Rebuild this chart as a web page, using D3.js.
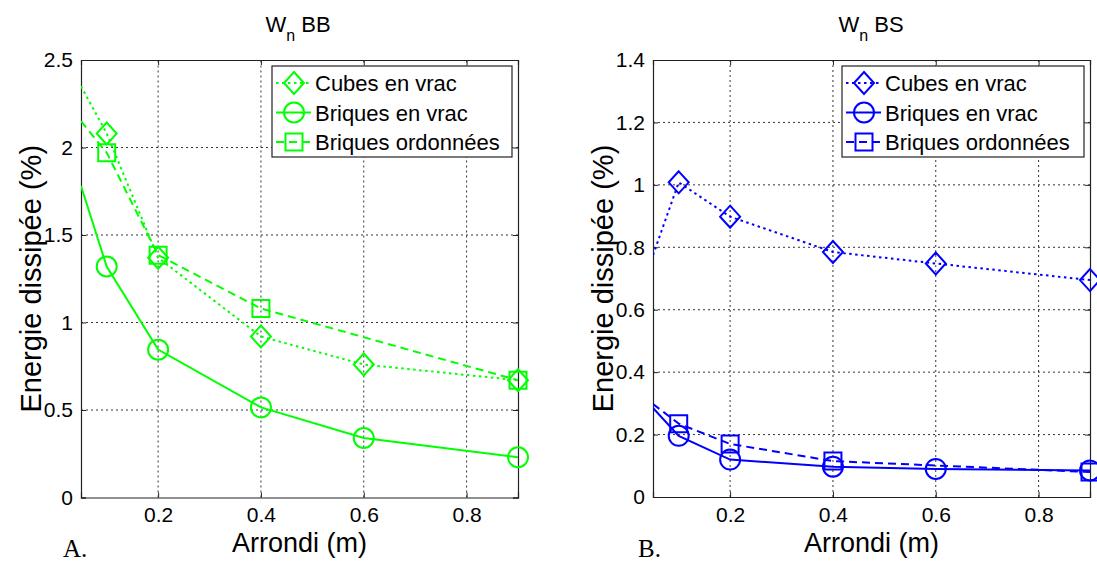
<!DOCTYPE html>
<html>
<head>
<meta charset="utf-8">
<script src="https://cdn.jsdelivr.net/npm/d3@7"></script>
<style>
  html, body { margin: 0; padding: 0; background: #fff; }
  svg { display: block; }
  text { font-family: "Liberation Sans", Arial, sans-serif; fill: #000; }
</style>
</head>
<body>
<svg id="chart" width="1097" height="561"></svg>
<script>
// ---------- data ----------
const seriesNames = ["Cubes en vrac", "Briques en vrac", "Briques ordonnées"];
const xTicks = [0.2, 0.4, 0.6, 0.8];
const xTickLabels = ["0.2", "0.4", "0.6", "0.8"];

// x positions (first point = left edge start, drawn without marker)
const xCubes = [0.05, 0.1, 0.2, 0.4, 0.6, 0.9];
const xBriquesVrac = [0.05, 0.1, 0.2, 0.4, 0.6, 0.9];
const xBriquesOrd = [0.05, 0.1, 0.2, 0.4, 0.9];

// Panel A : Wn BB
const bbCubes = [2.35, 2.08, 1.37, 0.92, 0.76, 0.67];
const bbBriquesVrac = [1.78, 1.32, 0.845, 0.515, 0.34, 0.23];
const bbBriquesOrd = [2.15, 1.97, 1.385, 1.08, 0.67];
const bbYTicks = [0, 0.5, 1, 1.5, 2, 2.5];
const bbYTickLabels = ["0", "0.5", "1", "1.5", "2", "2.5"];

// Panel B : Wn BS
const bsCubes = [0.775, 1.008, 0.898, 0.785, 0.748, 0.695];
const bsBriquesVrac = [0.285, 0.196, 0.12, 0.097, 0.09, 0.085];
const bsBriquesOrd = [0.298, 0.235, 0.17, 0.115, 0.08];
const bsYTicks = [0, 0.2, 0.4, 0.6, 0.8, 1, 1.2, 1.4];
const bsYTickLabels = ["0", "0.2", "0.4", "0.6", "0.8", "1", "1.2", "1.4"];

// ---------- drawing ----------
const svg = d3.select("#chart");
const styles = [
  { dash: "2.5,3.5", marker: "diamond" },
  { dash: null, marker: "circle" },
  { dash: "8,5", marker: "square" }
];

function markerPath(type) {
  if (type === "diamond") return "M0,-11L10,0L0,11L-10,0Z";
  if (type === "square") return "M-8.5,-8.5H8.5V8.5H-8.5Z";
  return d3.arc()({ innerRadius: 0, outerRadius: 10, startAngle: 0, endAngle: 2 * Math.PI });
}

function drawPanel(cfg) {
  const x = d3.scaleLinear().domain([0.05, 0.9]).range([cfg.x0, cfg.x1]);
  const y = d3.scaleLinear().domain([0, cfg.yMax]).range([cfg.y0, cfg.y1]);
  const g = svg.append("g");
  const clipId = "clip" + cfg.id;
  svg.append("clipPath").attr("id", clipId).append("rect")
    .attr("x", cfg.x0).attr("y", cfg.y1).attr("width", cfg.x1 - cfg.x0).attr("height", cfg.y0 - cfg.y1);

  // grid
  g.append("g").selectAll("line").data(xTicks).join("line")
    .attr("x1", d => x(d)).attr("x2", d => x(d)).attr("y1", cfg.y0).attr("y2", cfg.y1)
    .attr("stroke", "#000").attr("stroke-width", 0.8).attr("stroke-dasharray", "2,3");
  g.append("g").selectAll("line").data(cfg.yTicks.slice(1, -1)).join("line")
    .attr("x1", cfg.x0).attr("x2", cfg.x1).attr("y1", d => y(d)).attr("y2", d => y(d))
    .attr("stroke", "#000").attr("stroke-width", 0.8).attr("stroke-dasharray", "2,3");

  // axes
  const ax = g.append("g").attr("transform", `translate(0,${cfg.y0})`)
    .call(d3.axisBottom(x).tickValues(xTicks).tickSize(-5).tickPadding(10)
      .tickFormat((d, i) => xTickLabels[i]));
  const ay = g.append("g").attr("transform", `translate(${cfg.x0},0)`)
    .call(d3.axisLeft(y).tickValues(cfg.yTicks).tickSize(-5).tickPadding(8)
      .tickFormat((d, i) => cfg.yTickLabels[i]));
  const axTop = g.append("g").attr("transform", `translate(0,${cfg.y1})`)
    .call(d3.axisTop(x).tickValues(xTicks).tickSize(-5).tickFormat(""));
  const ayRight = g.append("g").attr("transform", `translate(${cfg.x1},0)`)
    .call(d3.axisRight(y).tickValues(cfg.yTicks).tickSize(-5).tickFormat(""));
  [ax, ay, axTop, ayRight].forEach(a => {
    a.attr("font-family", null).attr("font-size", null);
    a.select(".domain").attr("stroke", "#222").attr("stroke-width", 1.2);
    a.selectAll(".tick line").attr("stroke", "#222");
    a.selectAll(".tick text").style("font-size", "21px").attr("fill", "#000");
  });

  // title
  const t = g.append("text").attr("x", cfg.titleX).attr("y", 32)
    .attr("text-anchor", "middle").style("font-size", "22px");
  t.append("tspan").text("W");
  t.append("tspan").attr("dy", 9).style("font-size", "16px").text("n");
  t.append("tspan").attr("dy", -9).text("\u00A0" + cfg.titleRest);

  // axis labels
  g.append("text").attr("x", (cfg.x0 + cfg.x1) / 2).attr("y", 552)
    .attr("text-anchor", "middle").style("font-size", "27px").text("Arrondi (m)");
  g.append("text").attr("transform", `translate(${cfg.x0 - 40},${(cfg.y0 + cfg.y1) / 2}) rotate(-90)`)
    .attr("text-anchor", "middle").style("font-size", "29px").text("Energie dissipée (%)");

  // panel letter
  g.append("text").attr("x", cfg.letterX).attr("y", 557)
    .style("font-family", "'Liberation Serif', 'Times New Roman', serif").style("font-size", "25px")
    .text(cfg.letter);

  // series
  const xs = [xCubes, xBriquesVrac, xBriquesOrd];
  cfg.values.forEach((vals, si) => {
    const pts = vals.map((v, i) => [xs[si][i], v]);
    const line = d3.line().x(d => x(d[0])).y(d => y(d[1]));
    g.append("path").attr("d", line(pts)).attr("clip-path", `url(#${clipId})`)
      .attr("fill", "none").attr("stroke", cfg.color).attr("stroke-width", 2)
      .attr("stroke-dasharray", styles[si].dash);
    g.append("g").selectAll("path").data(pts.slice(1)).join("path")
      .attr("transform", d => `translate(${x(d[0])},${y(d[1])})`)
      .attr("d", markerPath(styles[si].marker))
      .attr("fill", "none").attr("stroke", cfg.color).attr("stroke-width", 2);
  });

  // legend
  const L = cfg.legend;
  g.append("rect").attr("x", L.x).attr("y", L.y).attr("width", L.w).attr("height", L.h)
    .attr("fill", "#fff").attr("stroke", "#222").attr("stroke-width", 1.2);
  seriesNames.forEach((name, si) => {
    const cy = L.y + 17 + si * 29.5;
    g.append("line").attr("x1", L.x + 4).attr("x2", L.x + 39).attr("y1", cy).attr("y2", cy)
      .attr("stroke", cfg.color).attr("stroke-width", 2).attr("stroke-dasharray", styles[si].dash);
    g.append("path").attr("transform", `translate(${L.x + 22},${cy})`)
      .attr("d", markerPath(styles[si].marker))
      .attr("fill", "none").attr("stroke", cfg.color).attr("stroke-width", 2);
    g.append("text").attr("x", L.x + 43).attr("y", cy + 8).style("font-size", "22px").text(name);
  });
}

drawPanel({
  id: "A", x0: 81, x1: 518, y0: 497.5, y1: 60, yMax: 2.5,
  yTicks: bbYTicks, yTickLabels: bbYTickLabels,
  values: [bbCubes, bbBriquesVrac, bbBriquesOrd], color: "#00ff00",
  titleX: 298, titleRest: "BB", letter: "A.", letterX: 63,
  legend: { x: 272, y: 66, w: 240, h: 91 }
});
drawPanel({
  id: "B", x0: 653, x1: 1090, y0: 497, y1: 60, yMax: 1.4,
  yTicks: bsYTicks, yTickLabels: bsYTickLabels,
  values: [bsCubes, bsBriquesVrac, bsBriquesOrd], color: "#0000ff",
  titleX: 871, titleRest: "BS", letter: "B.", letterX: 638,
  legend: { x: 842, y: 66, w: 242, h: 91 }
});
</script>
</body>
</html>
